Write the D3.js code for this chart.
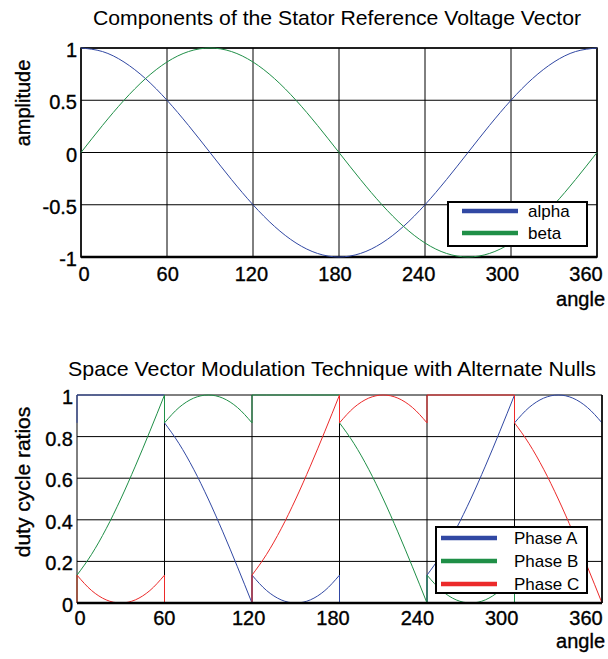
<!DOCTYPE html>
<html>
<head>
<meta charset="utf-8">
<script src="https://cdn.jsdelivr.net/npm/d3@7"></script>
<style>
  body { margin: 0; background: #fff; }
  text { font-family: "Liberation Sans", Arial, sans-serif; fill: #000; }
  .heavy { stroke: #000; stroke-width: 0.35px; }
</style>
</head>
<body>
<div id="chart"></div>
<script>
// ---- data: top panel (alpha / beta components), sampled every 15 deg
const angleTop = [0, 15, 30, 45, 60, 75, 90, 105, 120, 135, 150, 165, 180,
                  195, 210, 225, 240, 255, 270, 285, 300, 315, 330, 345, 360];
const alpha = [1, 0.966, 0.866, 0.707, 0.5, 0.259, 0, -0.259, -0.5, -0.707, -0.866, -0.966, -1,
               -0.966, -0.866, -0.707, -0.5, -0.259, 0, 0.259, 0.5, 0.707, 0.866, 0.966, 1];
const beta = [0, 0.259, 0.5, 0.707, 0.866, 0.966, 1, 0.966, 0.866, 0.707, 0.5, 0.259, 0,
              -0.259, -0.5, -0.707, -0.866, -0.966, -1, -0.966, -0.866, -0.707, -0.5, -0.259, 0];

// ---- data: bottom panel (duty cycles), one row per 60 deg sector, 10 deg steps
const sectorStart = [0, 60, 120, 180, 240, 300];
const sectorSteps = [0, 10, 20, 30, 40, 50, 60];
const phaseA = [
  [1, 1, 1, 1, 1, 1, 1],
  [0.866, 0.766, 0.643, 0.5, 0.342, 0.174, 0],
  [0.134, 0.060, 0.015, 0, 0.015, 0.060, 0.134],
  [0, 0, 0, 0, 0, 0, 0],
  [0.134, 0.234, 0.357, 0.5, 0.658, 0.826, 1],
  [0.866, 0.940, 0.985, 1, 0.985, 0.940, 0.866]
];
const phaseB = [
  [0.134, 0.234, 0.357, 0.5, 0.658, 0.826, 1],
  [0.866, 0.940, 0.985, 1, 0.985, 0.940, 0.866],
  [1, 1, 1, 1, 1, 1, 1],
  [0.866, 0.766, 0.643, 0.5, 0.342, 0.174, 0],
  [0.134, 0.060, 0.015, 0, 0.015, 0.060, 0.134],
  [0, 0, 0, 0, 0, 0, 0]
];
const phaseC = [
  [0.134, 0.060, 0.015, 0, 0.015, 0.060, 0.134],
  [0, 0, 0, 0, 0, 0, 0],
  [0.134, 0.234, 0.357, 0.5, 0.658, 0.826, 1],
  [0.866, 0.940, 0.985, 1, 0.985, 0.940, 0.866],
  [1, 1, 1, 1, 1, 1, 1],
  [0.866, 0.766, 0.643, 0.5, 0.342, 0.174, 0]
];

const xTicks = [0, 60, 120, 180, 240, 300, 360];
const yTicksTop = [-1, -0.5, 0, 0.5, 1];
const yTicksBot = [0, 0.2, 0.4, 0.6, 0.8, 1];

const colBlue = "#3148a3", colGreen = "#1f8f47", colRed = "#ec2a2a";

const svg = d3.select("#chart").append("svg")
  .attr("width", 608).attr("height", 659);

// draws the grid, tick labels and titles of one panel
function panel(box, yDomain, yTicks, title, ylabel) {
  const x = d3.scaleLinear().domain([0, 360]).range([box.left, box.right]);
  const y = d3.scaleLinear().domain(yDomain).range([box.bottom, box.top]);
  // tick labels sit a little inside the plot ends in the original figure
  const xl = d3.scaleLinear().domain([0, 360]).range(box.labRange);
  const g = svg.append("g");

  g.selectAll(".vgrid").data(xTicks).enter().append("line")
    .attr("x1", d => x(d)).attr("x2", d => x(d))
    .attr("y1", box.top).attr("y2", box.bottom)
    .attr("stroke", "#000").attr("stroke-width", 1);
  g.selectAll(".hgrid").data(yTicks).enter().append("line")
    .attr("y1", d => y(d)).attr("y2", d => y(d))
    .attr("x1", box.left).attr("x2", box.right)
    .attr("stroke", "#000").attr("stroke-width", 1);

  g.selectAll(".xl").data(xTicks).enter().append("text")
    .attr("class", "heavy")
    .attr("x", d => xl(d)).attr("y", box.bottom + box.xlabDy)
    .attr("text-anchor", "middle").style("font-size", "20px")
    .text(d => d);
  g.selectAll(".yl").data(yTicks).enter().append("text")
    .attr("class", "heavy")
    .attr("x", box.left - 4).attr("y", d => y(d) + 9)
    .attr("text-anchor", "end").style("font-size", "20px")
    .text(d => d);

  g.append("text").attr("x", box.titleX).attr("y", box.titleY)
    .attr("text-anchor", "middle").style("font-size", "21px")
    .attr("textLength", box.titleW).attr("lengthAdjust", "spacingAndGlyphs")
    .text(title);
  g.append("text").attr("class", "heavy").attr("x", 605).attr("y", box.bottom + box.angleDy)
    .attr("text-anchor", "end").style("font-size", "20px").text("angle");
  g.append("text").attr("class", "heavy")
    .attr("transform", `translate(${box.ylabX},${box.ylabY}) rotate(-90)`)
    .attr("text-anchor", "middle").style("font-size", box.ylabSize).text(ylabel);

  return {x, y, g};
}

function legend(box, items) {
  const g = svg.append("g");
  g.append("rect").attr("x", box.x).attr("y", box.y)
    .attr("width", box.w).attr("height", box.h)
    .attr("fill", "#fff").attr("stroke", "#000").attr("stroke-width", 2);
  items.forEach((it, i) => {
    const yy = box.y + box.first + i * box.step;
    g.append("line").attr("x1", box.x + box.l0).attr("x2", box.x + box.l1)
      .attr("y1", yy).attr("y2", yy).attr("stroke", it.c).attr("stroke-width", 4.5);
    g.append("text").attr("x", box.x + box.tx).attr("y", yy + 6)
      .style("font-size", "17px").text(it.n);
  });
}

function border(box) {
  svg.append("rect").attr("x", box.left).attr("y", box.top)
    .attr("width", box.right - box.left).attr("height", box.bottom - box.top)
    .attr("fill", "none").attr("stroke", "#000").attr("stroke-width", 1.5);
  svg.append("line").attr("x1", box.left).attr("x2", box.right)
    .attr("y1", box.bottom).attr("y2", box.bottom)
    .attr("stroke", "#000").attr("stroke-width", 2.5);
}

// ---- top panel
const boxTop = {left: 81, right: 597, top: 48, bottom: 257, labRange: [84, 586], xlabDy: 24,
  titleX: 337, titleY: 25, titleW: 488, angleDy: 49, ylabX: 30, ylabY: 103, ylabSize: "20px"};
const pT = panel(boxTop, [-1, 1], yTicksTop, "Components of the Stator Reference Voltage Vector", "amplitude");
border(boxTop);
const lineTop = d3.line().curve(d3.curveNatural);
[[alpha, colBlue], [beta, colGreen]].forEach(([vals, c]) => {
  svg.append("path")
    .attr("d", lineTop(angleTop.map((a, i) => [pT.x(a), pT.y(vals[i])])))
    .attr("fill", "none").attr("stroke", c).attr("stroke-width", 1);
});
legend({x: 448, y: 202, w: 139, h: 44, first: 9, step: 22, l0: 14, l1: 70, tx: 80},
  [{n: "alpha", c: colBlue}, {n: "beta", c: colGreen}]);

// ---- bottom panel
const boxBot = {left: 77, right: 602, top: 395, bottom: 603, labRange: [80, 586], xlabDy: 22,
  titleX: 332, titleY: 376, titleW: 528, angleDy: 45, ylabX: 30, ylabY: 482, ylabSize: "21px"};
const pB = panel(boxBot, [0, 1], yTicksBot, "Space Vector Modulation Technique with Alternate Nulls", "duty cycle ratios");

const seg = d3.line().curve(d3.curveMonotoneX);
[[phaseA, colBlue], [phaseB, colGreen], [phaseC, colRed]].forEach(([rows, c]) => {
  rows.forEach((vals, s) => {
    const pts = sectorSteps.map((st, i) => [pB.x(sectorStart[s] + st), pB.y(vals[i])]);
    svg.append("path").attr("d", seg(pts))
      .attr("fill", "none").attr("stroke", c).attr("stroke-width", 1);
    // vertical jump from the previous sector's end value
    const prev = rows[(s + 5) % 6];
    svg.append("line")
      .attr("x1", pB.x(sectorStart[s])).attr("x2", pB.x(sectorStart[s]))
      .attr("y1", pB.y(prev[6])).attr("y2", pB.y(vals[0]))
      .attr("stroke", c).attr("stroke-width", 1);
  });
});
svg.append("line").attr("x1", boxBot.left).attr("x2", boxBot.right)
  .attr("y1", boxBot.bottom).attr("y2", boxBot.bottom)
  .attr("stroke", "#000").attr("stroke-width", 2.5);
svg.append("line").attr("x1", boxBot.right).attr("x2", boxBot.right)
  .attr("y1", boxBot.top).attr("y2", boxBot.bottom)
  .attr("stroke", "#000").attr("stroke-width", 1.5);
legend({x: 436, y: 527, w: 151, h: 66, first: 11, step: 23, l0: 5, l1: 61, tx: 78},
  [{n: "Phase A", c: colBlue}, {n: "Phase B", c: colGreen}, {n: "Phase C", c: colRed}]);
</script>
</body>
</html>
